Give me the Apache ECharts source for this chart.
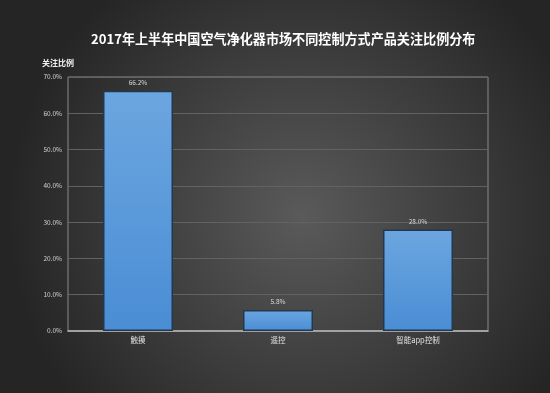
<!DOCTYPE html>
<html><head><meta charset="utf-8">
<script src="https://cdn.jsdelivr.net/npm/echarts@6/dist/echarts.min.js"></script>
<style>html,body{margin:0;padding:0;}#c{width:550px;height:393px;}</style>
</head><body><div id="c"></div>
<script>
const titleText = '2017年上半年中国空气净化器市场不同控制方式产品关注比例分布';
const categories = ['触摸', '遥控', '智能app控制'];
const values = [66.2, 5.8, 28.0];
const yTicks = [0, 10, 20, 30, 40, 50, 60, 70];
const yName = '关注比例';

const chart = echarts.init(document.getElementById('c'));
const font = '"Noto Sans CJK SC", "Noto Sans", sans-serif';
chart.setOption({
  backgroundColor: {
    type: 'radial', x: 0.55, y: 0.55, r: 0.75,
    colorStops: [{offset: 0, color: '#5a5a5a'}, {offset: 1, color: '#252525'}]
  },
  animation: false,
  title: [{
    text: titleText, left: 86, top: 27,
    textStyle: {color: '#ffffff', fontSize: 13.1, fontWeight: 'bold', fontFamily: font}
  }, {
    text: yName, left: 37, top: 54,
    textStyle: {color: '#f0f0f0', fontSize: 8, fontWeight: 'bold', fontFamily: font}
  }],
  grid: {left: 68, right: 62, top: 77, bottom: 62, show: true, borderColor: '#8a8a8a', borderWidth: 1},
  xAxis: {
    type: 'category', data: categories,
    axisLine: {show: true, lineStyle: {color: '#b8b8b8', width: 1.5}},
    axisTick: {show: false},
    axisLabel: {color: '#e0e0e0', fontSize: 7.5, margin: 5, fontFamily: font},
    splitLine: {show: false}
  },
  yAxis: {
    type: 'value', min: yTicks[0], max: yTicks[yTicks.length - 1], interval: 10,
    axisLine: {show: false}, axisTick: {show: false},
    axisLabel: {color: '#d0d0d0', fontSize: 6.5, margin: 6, fontFamily: font, formatter: v => v.toFixed(1) + '%'},
    splitLine: {show: true, lineStyle: {color: '#626262', width: 1}}
  },
  series: [{
    type: 'bar', data: values, barWidth: '50%',
    itemStyle: {
      color: {type: 'linear', x: 0, y: 0, x2: 0, y2: 1,
        colorStops: [{offset: 0, color: '#6ca6e0'}, {offset: 1, color: '#4a8dd4'}]},
      borderColor: '#22384f', borderWidth: 1.5
    },
    label: {show: true, position: 'top', distance: 5, color: '#d8d8d8', fontSize: 6.5, fontFamily: font,
      formatter: p => p.value.toFixed(1) + '%'}
  }]
});
</script></body></html>
